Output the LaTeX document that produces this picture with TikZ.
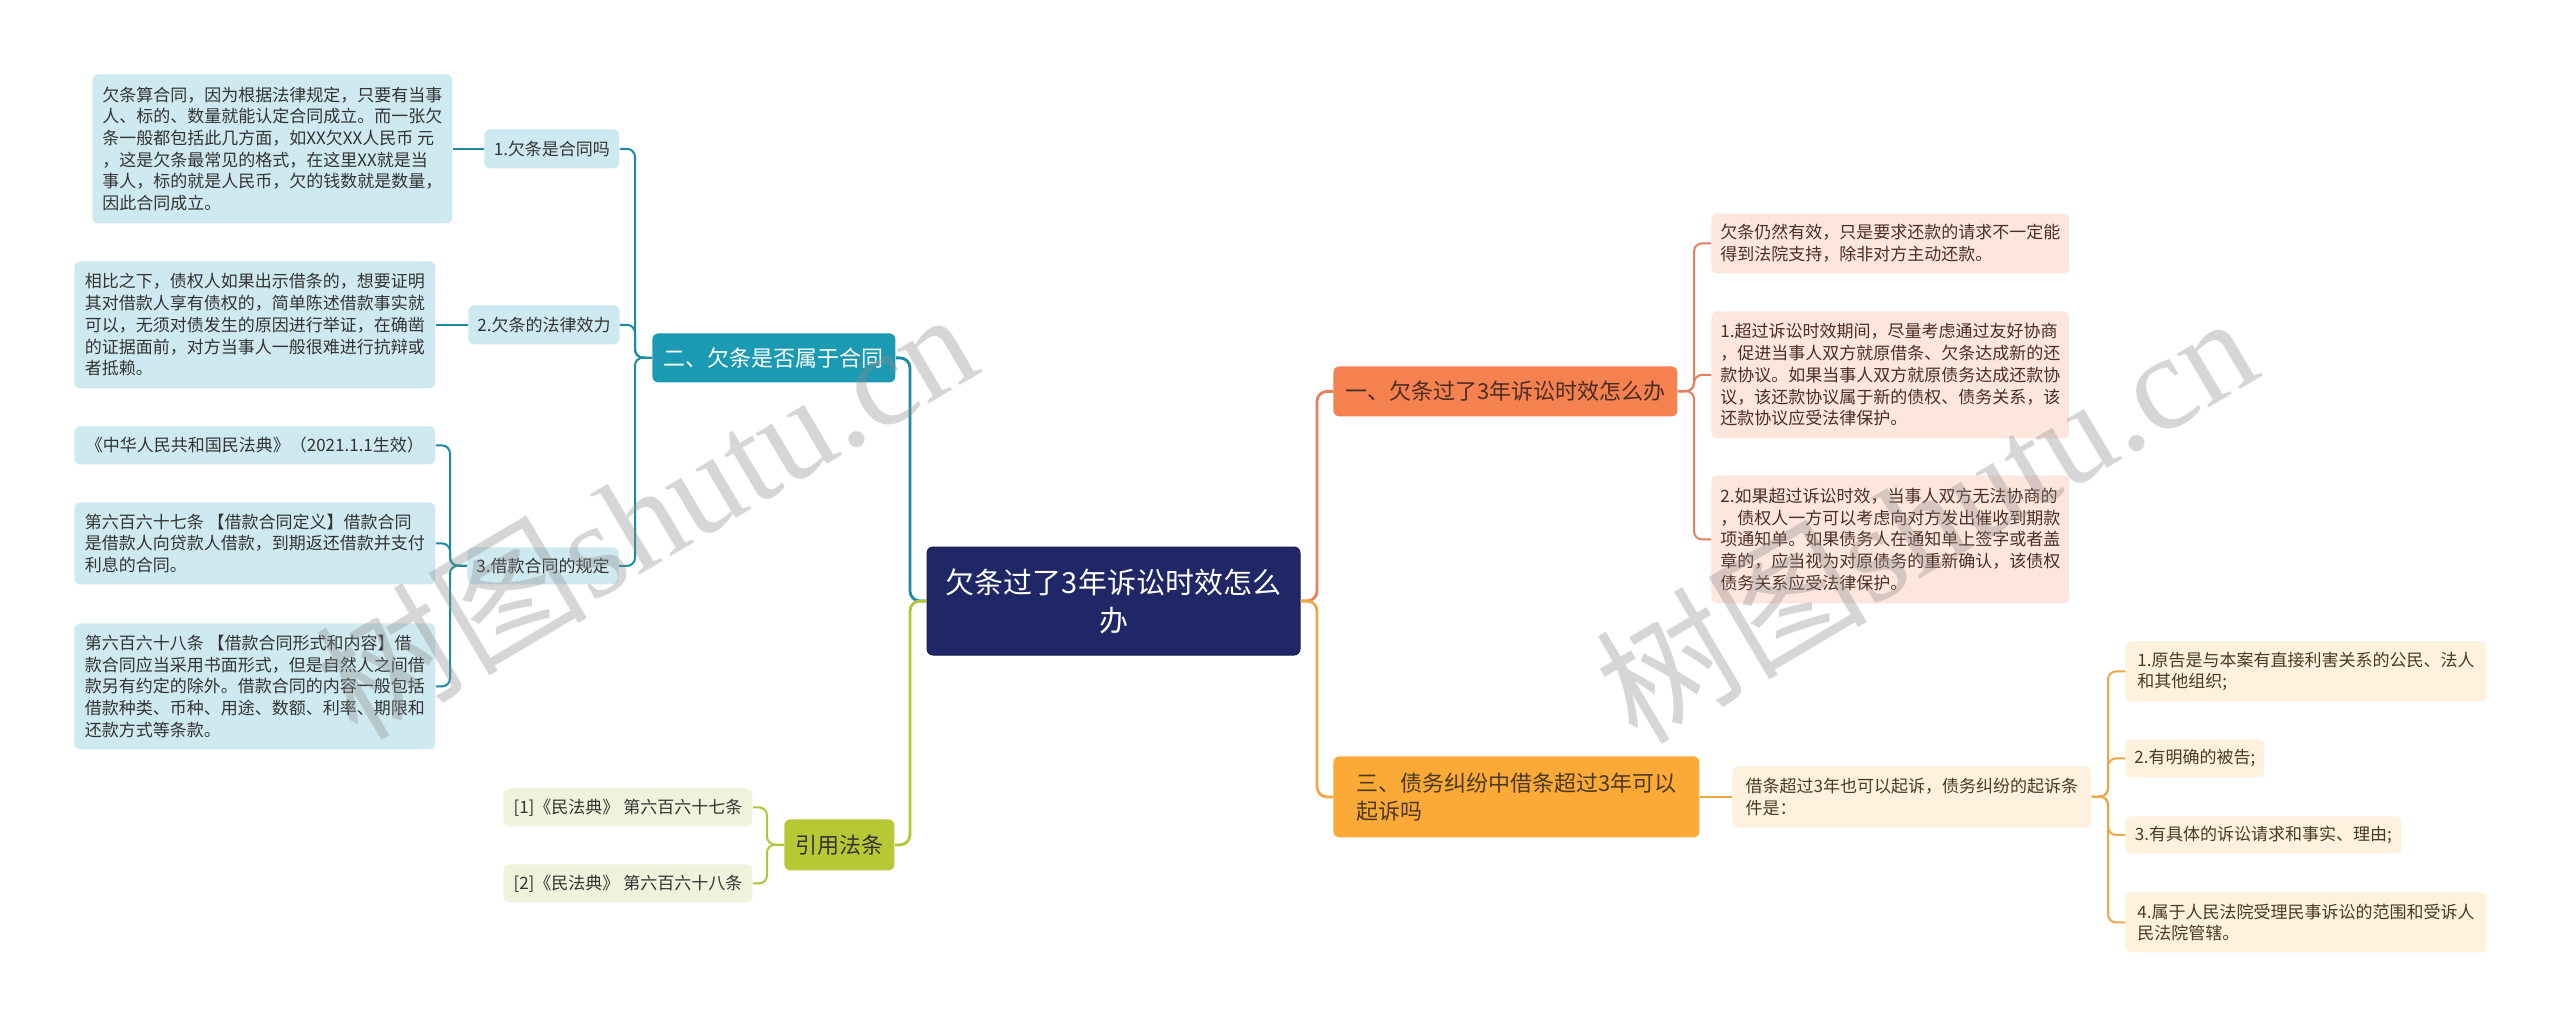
\documentclass[tikz,border=0pt]{standalone}
\usepackage{fontspec}
\setmainfont{Noto Sans CJK SC}
\newfontfamily\wmserif{Liberation Serif}
\usetikzlibrary{calc}
\definecolor{navy}{HTML}{1F2766}
\definecolor{tealbox}{HTML}{1C9AB4}
\definecolor{tealline}{HTML}{1C8AA3}
\definecolor{lblue}{HTML}{CFE9F1}
\definecolor{greenbox}{HTML}{B6C935}
\definecolor{greenline}{HTML}{B3C537}
\definecolor{lgreen}{HTML}{EFF3DB}
\definecolor{redbox}{HTML}{F4814F}
\definecolor{redline}{HTML}{E5805C}
\definecolor{lpink}{HTML}{FDE6DE}
\definecolor{orbox}{HTML}{FBAA37}
\definecolor{orline}{HTML}{EEA744}
\definecolor{lcream}{HTML}{FEF1DD}
\definecolor{txt}{HTML}{333333}
\definecolor{ptxt}{HTML}{4A2E24}
\definecolor{otxt}{HTML}{4A3A20}
\tikzset{
  basebox/.style={anchor=north west, rounded corners=3pt, inner ysep=0pt, draw=none},
  smallbox/.style={basebox, font=\fontsize{8.5pt}{10.85pt}\selectfont, align=left, inner xsep=4.5pt, text=txt},
  bluebox/.style={smallbox, fill=lblue},
  olivebox/.style={smallbox, fill=lgreen},
  pinkbox/.style={smallbox, fill=lpink, text=ptxt},
  creambox/.style={smallbox, fill=lcream, text=otxt},
  mainbox/.style={basebox, font=\fontsize{11pt}{14pt}\selectfont, align=left, inner xsep=5pt},
  rootbox/.style={anchor=center, rounded corners=3pt, fill=navy, draw=navy!80!black, line width=0.5pt, text=white, font=\fontsize{14.5pt}{19pt}\selectfont, align=center},
  conn/.style={line width=1pt, rounded corners=4pt},
  mconn/.style={line width=1.4pt, rounded corners=5pt},
  wmark/.style={text=black!45, opacity=0.35, rotate=30.6, font=\fontsize{68pt}{68pt}\selectfont}
}
\begin{document}
\begin{tikzpicture}[x=0.5pt,y=-0.5pt]
\useasboundingbox (0,0) rectangle (2560,1026);
\fill[white] (0,0) rectangle (2560,1026);

% root
\node[rootbox, minimum width=186.5pt, minimum height=54pt] (root) at (1113.5,601) {欠条过了3年诉讼时效怎么\\办};

% main branches
\node[mainbox, fill=tealbox, text=white, minimum width=121.5pt, minimum height=24.5pt] (b2) at (652,333) {二、欠条是否属于合同};
\node[mainbox, fill=greenbox, text=txt, minimum width=55pt, minimum height=25.5pt] (b4) at (784,819) {引用法条};
\node[mainbox, fill=redbox, text=ptxt, minimum width=172pt, minimum height=25pt] (b1) at (1333,366) {一、欠条过了3年诉讼时效怎么办};
\node[mainbox, fill=orbox, text=otxt, minimum width=183pt, minimum height=40.5pt] (b3) at (1333,756) {三、债务纠纷中借条超过3年可以\\起诉吗};

% teal level 2
\node[bluebox, minimum width=67.5pt, minimum height=19.5pt] (t1) at (484,129) {1.欠条是合同吗};
\node[bluebox, minimum width=75pt, minimum height=19.5pt] (t2) at (468,305) {2.欠条的法律效力};
\node[bluebox, minimum width=75.5pt, minimum height=18.5pt] (t3) at (467,547) {3.借款合同的规定};

% teal level 3
\node[bluebox, minimum width=180pt, minimum height=74.5pt] (p1) at (92,74) {欠条算合同，因为根据法律规定，只要有当事\\人、标的、数量就能认定合同成立。而一张欠\\条一般都包括此几方面，如XX欠XX人民币 元\\，这是欠条最常见的格式，在这里XX就是当\\事人，标的就是人民币，欠的钱数就是数量，\\因此合同成立。};
\node[bluebox, minimum width=180.5pt, minimum height=63.5pt] (p2) at (74,261) {相比之下，债权人如果出示借条的，想要证明\\其对借款人享有债权的，简单陈述借款事实就\\可以，无须对债发生的原因进行举证，在确凿\\的证据面前，对方当事人一般很难进行抗辩或\\者抵赖。};
\node[bluebox, minimum width=180.5pt, minimum height=19pt] (p3) at (74,426) {《中华人民共和国民法典》（2021.1.1生效）};
\node[bluebox, minimum width=180.5pt, minimum height=41pt] (p4) at (74,502) {第六百六十七条 【借款合同定义】借款合同\\是借款人向贷款人借款，到期返还借款并支付\\利息的合同。};
\node[bluebox, minimum width=180.5pt, minimum height=63pt] (p5) at (74,623) {第六百六十八条 【借款合同形式和内容】借\\款合同应当采用书面形式，但是自然人之间借\\款另有约定的除外。借款合同的内容一般包括\\借款种类、币种、用途、数额、利率、期限和\\还款方式等条款。};

% green
\node[olivebox, minimum width=124.5pt, minimum height=19pt] (g1) at (503,788) {[1]《民法典》 第六百六十七条};
\node[olivebox, minimum width=124.5pt, minimum height=19pt] (g2) at (503,864) {[2]《民法典》 第六百六十八条};

% pink
\node[pinkbox, minimum width=179pt, minimum height=30pt] (r1) at (1711,213) {欠条仍然有效，只是要求还款的请求不一定能\\得到法院支持，除非对方主动还款。};
\node[pinkbox, minimum width=179pt, minimum height=63.5pt] (r2) at (1711,311) {1.超过诉讼时效期间，尽量考虑通过友好协商\\，促进当事人双方就原借条、欠条达成新的还\\款协议。如果当事人双方就原债务达成还款协\\议，该还款协议属于新的债权、债务关系，该\\还款协议应受法律保护。};
\node[pinkbox, minimum width=179pt, minimum height=64pt] (r3) at (1711,475) {2.如果超过诉讼时效，当事人双方无法协商的\\，债权人一方可以考虑向对方发出催收到期款\\项通知单。如果债务人在通知单上签字或者盖\\章的，应当视为对原债务的重新确认，该债权\\债务关系应受法律保护。};

% cream
\node[creambox, minimum width=179.5pt, minimum height=30.5pt] (o0) at (1732,766) {借条超过3年也可以起诉，债务纠纷的起诉条\\件是：};
\node[creambox, minimum width=180.5pt, minimum height=30pt] (d1) at (2125,641) {1.原告是与本案有直接利害关系的公民、法人\\和其他组织;};
\node[creambox, minimum width=68.5pt, minimum height=19pt] (d2) at (2125,739) {2.有明确的被告;};
\node[creambox, minimum width=138pt, minimum height=18.5pt] (d3) at (2125,816) {3.有具体的诉讼请求和事实、理由;};
\node[creambox, minimum width=180.5pt, minimum height=30pt] (d4) at (2125,892) {4.属于人民法院受理民事诉讼的范围和受诉人\\民法院管辖。};

% junction coordinates
\coordinate (jL) at (910,601);
\coordinate (jR) at (1317,601);
\coordinate (j2) at (635,357.5);
\coordinate (j3) at (450,565.5);
\coordinate (j4) at (767,844.5);
\coordinate (j1) at (1694,391);
\coordinate (j5) at (2108,796.5);

% connectors root
\draw[mconn, tealline] (root.west) -- (jL) |- (b2.east);
\draw[mconn, greenline] (root.west) -- (jL) |- (b4.east);
\draw[mconn, redline] (root.east) -- (jR) |- (b1.west);
\draw[mconn, orline] (root.east) -- (jR) |- (b3.west);

% teal
\draw[conn, tealline] (b2.west) -- (j2) |- (t1.east);
\draw[conn, tealline] (b2.west) -- (j2) |- (t2.east);
\draw[conn, tealline] (b2.west) -- (j2) |- (t3.east);
\draw[conn, tealline] (t1.west) -- (p1.east);
\draw[conn, tealline] (t2.west) -- (p2.east);
\draw[conn, tealline] (t3.west) -- (j3) |- (p3.east);
\draw[conn, tealline] (t3.west) -- (j3) |- (p4.east);
\draw[conn, tealline] (t3.west) -- (j3) |- (p5.east);

% green
\draw[conn, greenline] (b4.west) -- (j4) |- (g1.east);
\draw[conn, greenline] (b4.west) -- (j4) |- (g2.east);

% red
\draw[conn, redline] (b1.east) -- (j1) |- (r1.west);
\draw[conn, redline] (b1.east) -- (j1) |- (r2.west);
\draw[conn, redline] (b1.east) -- (j1) |- (r3.west);

% orange
\draw[conn, orline] (b3.east) -- (o0.west);
\draw[conn, orline] (o0.east) -- (j5) |- (d1.west);
\draw[conn, orline] (o0.east) -- (j5) |- (d2.west);
\draw[conn, orline] (o0.east) -- (j5) |- (d3.west);
\draw[conn, orline] (o0.east) -- (j5) |- (d4.west);

% watermarks
\node[wmark] (wm1) at (645,512) {树图{\wmserif shutu.cn}};
\node[wmark] (wm2) at (1925,516) {树图{\wmserif shutu.cn}};
\end{tikzpicture}
\end{document}
